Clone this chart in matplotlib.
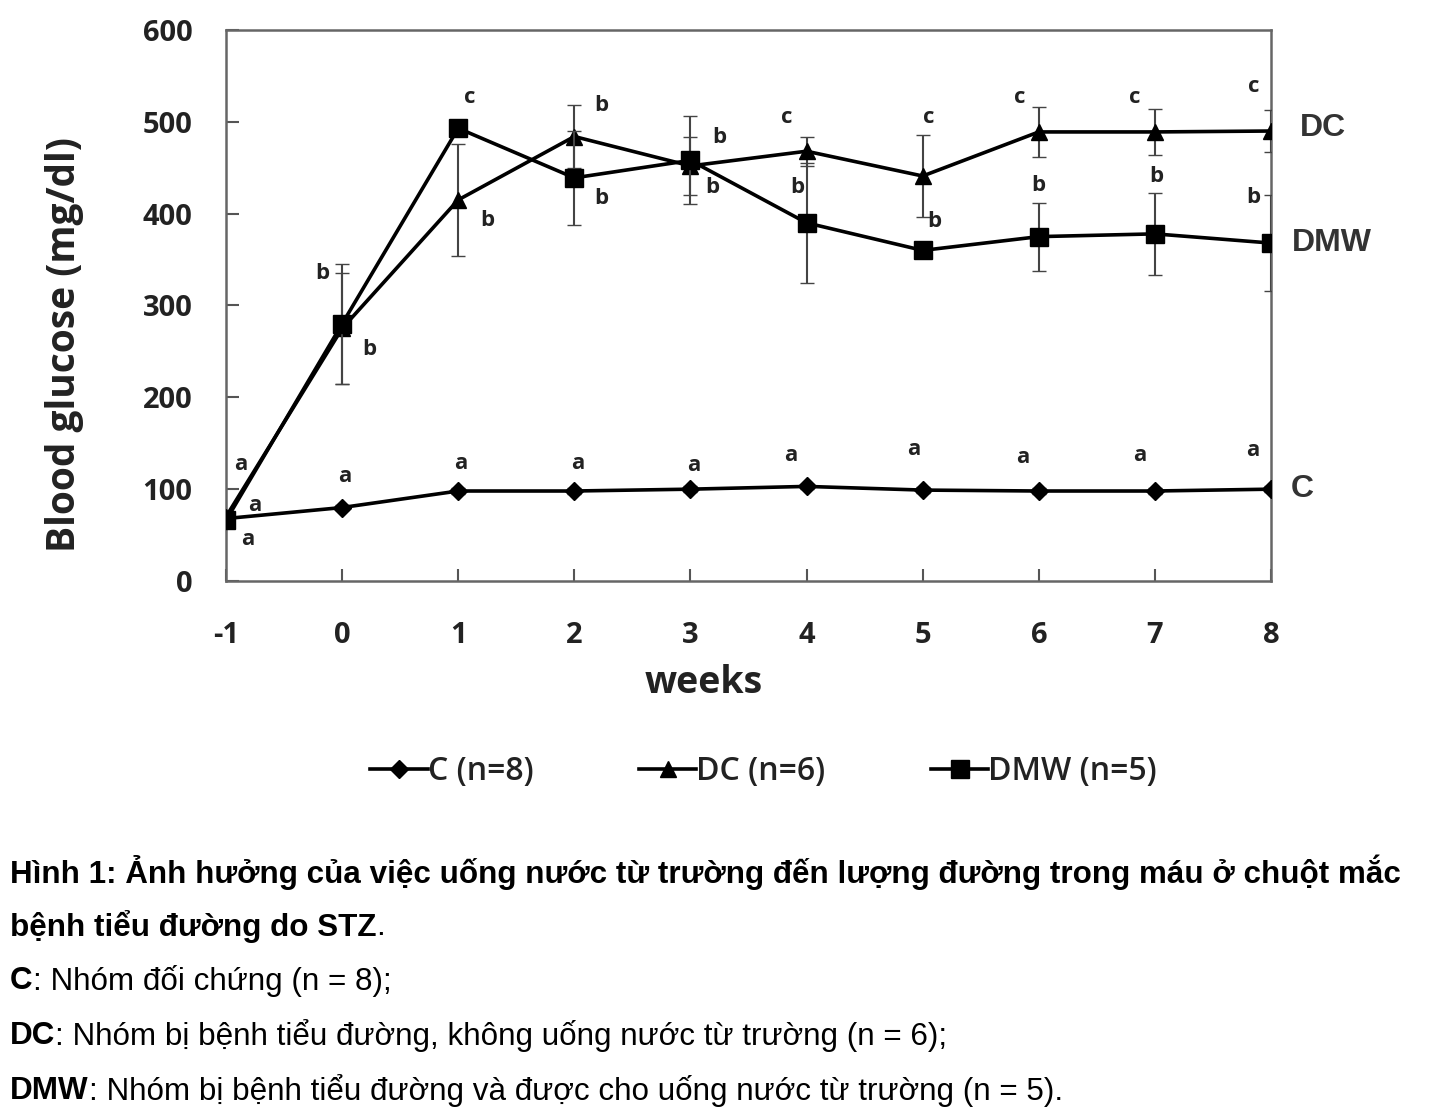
import matplotlib
matplotlib.use("Agg")
import matplotlib.pyplot as plt
from matplotlib import font_manager
from matplotlib.lines import Line2D

plt.rcParams["axes.unicode_minus"] = False

weeks = [-1, 0, 1, 2, 3, 4, 5, 6, 7, 8]
c_vals = [68, 80, 98, 98, 100, 103, 99, 98, 98, 100]
c_err = [3, 3, 3, 3, 3, 3, 3, 3, 3, 3]
dc_vals = [70, 275, 415, 484, 452, 468, 441, 489, 489, 490]
dc_err = [5, 60, 61, 34, 32, 16, 45, 27, 25, 23]
dmw_vals = [66, 280, 493, 439, 458, 390, 360, 375, 378, 368]
dmw_err = [5, 65, 5, 51, 48, 65, 8, 37, 45, 52]

y_ticks = [0, 100, 200, 300, 400, 500, 600]
legend_labels = ["C (n=8)", "DC (n=6)", "DMW (n=5)"]
end_labels = ["C", "DC", "DMW"]

# significance letters: (x, y, letter)
letters = [
    (1.10, 526, "c"), (2.23, 518, "b"), (3.25, 483, "b"), (3.83, 505, "c"),
    (5.05, 505, "c"), (5.84, 526, "c"), (6.83, 526, "c"), (7.85, 539, "c"),
    (1.25, 393, "b"), (2.23, 417, "b"), (3.19, 429, "b"), (3.92, 429, "b"),
    (5.10, 392, "b"), (6.00, 431, "b"), (7.01, 440, "b"), (7.85, 418, "b"),
    (-0.17, 335, "b"), (0.23, 252, "b"),
    (-0.87, 127, "a"), (-0.75, 82, "a"), (-0.81, 45, "a"), (0.02, 114, "a"),
    (1.02, 128, "a"), (2.03, 128, "a"), (3.03, 126, "a"), (3.86, 137, "a"),
    (4.92, 143, "a"), (5.86, 135, "a"), (6.87, 137, "a"), (7.84, 142, "a"),
]

caption = [
    [("Hình 1: Ảnh hưởng của việc uống nước từ trường đến lượng đường trong máu ở chuột mắc", "bold")],
    [("bệnh tiểu đường do STZ", "bold"), (".", "normal")],
    [("C", "bold"), (": Nhóm đối chứng (n = 8);", "normal")],
    [("DC", "bold"), (": Nhóm bị bệnh tiểu đường, không uống nước từ trường (n = 6);", "normal")],
    [("DMW", "bold"), (": Nhóm bị bệnh tiểu đường và được cho uống nước từ trường (n = 5).", "normal")],
]

names = {f.name for f in font_manager.fontManager.ttflist}
chart_font = "Open Sans" if "Open Sans" in names else "DejaVu Sans"
cap_font = "Liberation Sans"

W, H = 1430, 1114
fig = plt.figure(figsize=(W / 100, H / 100), dpi=100)
ax = fig.add_axes([226 / W, 1 - 581 / H, (1271 - 226) / W, (581 - 30) / H])

lw = 2.6
ecol = "#444444"
ax.errorbar(weeks, c_vals, yerr=c_err, color="black", lw=lw, marker="D", ms=9,
            ecolor=ecol, elinewidth=1.5, capsize=5, zorder=3)
ax.errorbar(weeks, dc_vals, yerr=dc_err, color="black", lw=lw, marker="^", ms=11,
            ecolor=ecol, elinewidth=1.5, capsize=5, zorder=3)
ax.errorbar(weeks, dmw_vals, yerr=dmw_err, color="black", lw=lw, marker="s", ms=13,
            ecolor=ecol, elinewidth=1.5, capsize=5, zorder=4)

ax.set_xlim(-1, 8)
ax.set_ylim(0, 600)
ax.set_xticks(weeks)
ax.set_yticks(y_ticks)
ax.tick_params(direction="in", length=9, width=1.5, color="#555555", labelsize=21)
ax.tick_params(axis="x", pad=29)
ax.tick_params(axis="y", pad=24)
for lab in ax.get_xticklabels() + ax.get_yticklabels():
    lab.set_fontfamily(chart_font)
    lab.set_fontweight("bold")
    lab.set_color("#222222")
for sp in ax.spines.values():
    sp.set_color("#666666")
    sp.set_linewidth(1.8)

ax.set_xlabel("weeks", fontsize=27, fontweight="bold", family=chart_font, color="#222222")
ax.xaxis.set_label_coords((704 - 226) / 1045, -(683 - 581) / 551, transform=ax.transAxes)
ax.xaxis.label.set_va("center")
ax.set_ylabel("Blood glucose (mg/dl)", fontsize=28, fontweight="bold", family=chart_font,
              color="#222222")
ax.yaxis.set_label_coords(-(226 - 65) / 1045, (581 - 345) / 551, transform=ax.transAxes)
ax.yaxis.label.set_va("center")

for x, y, t in letters:
    ax.text(x, y, t, ha="center", va="center", fontsize=16, fontweight="bold",
            family=chart_font, color="#222222", clip_on=False)

ends = [(c_vals[-1], end_labels[0], 8.17), (dc_vals[-1], end_labels[1], 8.25),
        (dmw_vals[-1], end_labels[2], 8.18)]
for yv, t, xx in ends:
    ax.text(xx, yv + (3 if t == "DC" else 0), t, ha="left", va="center", fontsize=23,
            fontweight="bold", family="Liberation Sans", color="#333333", clip_on=False)

handles = [
    Line2D([], [], color="black", lw=2.6, marker="D", ms=9),
    Line2D([], [], color="black", lw=2.6, marker="^", ms=11),
    Line2D([], [], color="black", lw=2.6, marker="s", ms=13),
]
leg = fig.legend(handles, legend_labels, loc="center", bbox_to_anchor=(0.534, 1 - 772 / H),
                 ncol=3, frameon=False, handlelength=1.8, handletextpad=0.0,
                 columnspacing=3.3, prop={"family": chart_font, "size": 23, "weight": 600})
for t in leg.get_texts():
    t.set_color("#222222")

# caption
renderer = fig.canvas.get_renderer()
ys = [872, 927, 981, 1036, 1091]
for yline, parts in zip(ys, caption):
    x = 10
    for txt, wgt in parts:
        tt = fig.text(x / W, 1 - yline / H, txt, ha="left", va="center", fontsize=22.6,
                      fontweight=wgt, family=cap_font, color="black")
        bb = tt.get_window_extent(renderer=renderer)
        x += bb.width

fig.savefig("out.png", dpi=100)
